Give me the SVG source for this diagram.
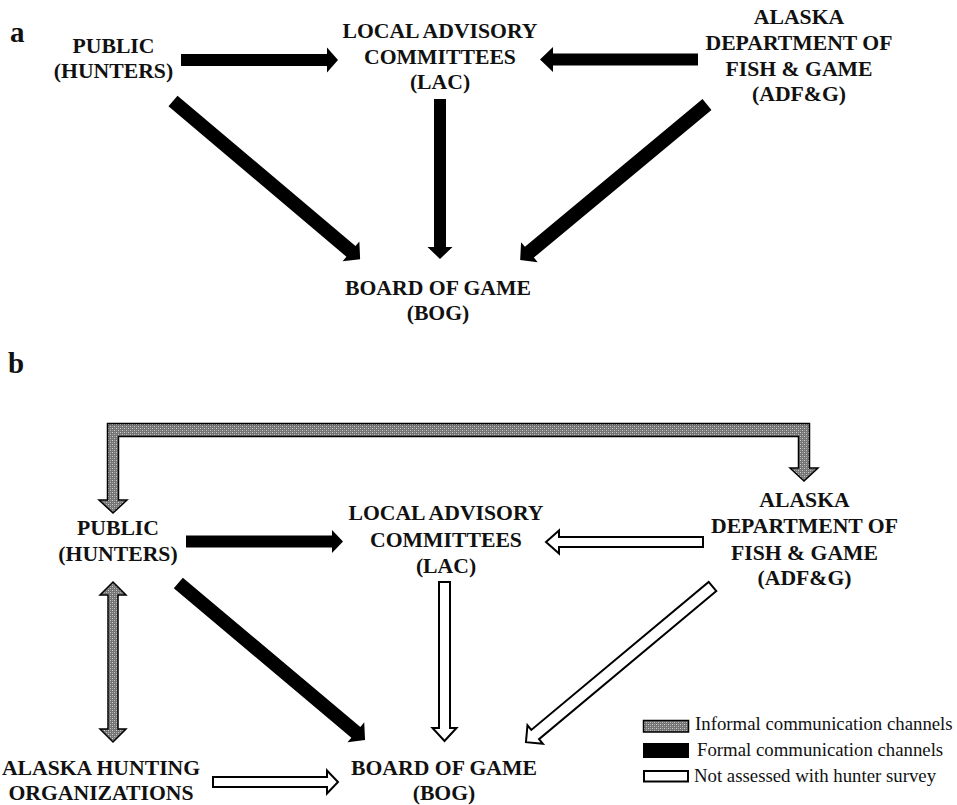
<svg xmlns="http://www.w3.org/2000/svg" width="957" height="805" viewBox="0 0 957 805">
<defs>
<pattern id="speckle" patternUnits="userSpaceOnUse" width="4" height="4">
<rect width="4" height="4" fill="#747474"/>
<rect x="0" y="0" width="1" height="1" fill="#d2d2d2"/>
<rect x="2" y="2" width="1" height="1" fill="#c4c4c4"/>
<rect x="2" y="0" width="1" height="1" fill="#a4a4a4"/>
<rect x="0" y="2" width="1" height="1" fill="#9a9a9a"/>
</pattern>
</defs>
<style>
.n{font-family:"Liberation Serif","Times New Roman",serif;font-weight:bold;font-size:21.7px;text-anchor:middle;fill:#111}
.lab{font-family:"Liberation Serif","Times New Roman",serif;font-weight:bold;font-size:29px;fill:#111}
.leg{font-family:"Liberation Serif","Times New Roman",serif;font-size:18.8px;fill:#111}
.formal{fill:#000;stroke:none}
.notass{fill:#fff;stroke:#000;stroke-width:2;stroke-linejoin:miter}
.informal{fill:url(#speckle);stroke:#000;stroke-width:1.5;stroke-linejoin:miter}
</style>
<rect width="957" height="805" fill="#fff"/>

<text class="lab" x="10" y="42">a</text>
<text class="lab" x="8" y="373">b</text>

<!-- Panel a nodes -->
<g id="a-public"><text class="n" x="113.5" y="53">PUBLIC</text><text class="n" x="113.5" y="78">(HUNTERS)</text></g>
<g id="a-lac"><text class="n" x="440" y="38">LOCAL ADVISORY</text><text class="n" x="440" y="64">COMMITTEES</text><text class="n" x="440" y="89">(LAC)</text></g>
<g id="a-adfg"><text class="n" x="799" y="24">ALASKA</text><text class="n" x="799" y="50">DEPARTMENT OF</text><text class="n" x="799" y="76">FISH &amp; GAME</text><text class="n" x="799" y="101">(ADF&amp;G)</text></g>
<g id="a-bog"><text class="n" x="438" y="295">BOARD OF GAME</text><text class="n" x="438" y="320">(BOG)</text></g>

<!-- Panel b nodes -->
<g id="b-public"><text class="n" x="118" y="535">PUBLIC</text><text class="n" x="118" y="561">(HUNTERS)</text></g>
<g id="b-lac"><text class="n" x="446" y="520">LOCAL ADVISORY</text><text class="n" x="446" y="547">COMMITTEES</text><text class="n" x="446" y="573">(LAC)</text></g>
<g id="b-adfg"><text class="n" x="804.5" y="507">ALASKA</text><text class="n" x="804.5" y="533">DEPARTMENT OF</text><text class="n" x="804.5" y="560">FISH &amp; GAME</text><text class="n" x="804.5" y="585">(ADF&amp;G)</text></g>
<g id="b-bog"><text class="n" x="444" y="775">BOARD OF GAME</text><text class="n" x="444" y="800">(BOG)</text></g>
<g id="b-aho"><text class="n" x="101" y="775">ALASKA HUNTING</text><text class="n" x="101" y="800">ORGANIZATIONS</text></g>

<g id="connectors">
<!-- panel a -->
<polygon class="formal" transform="translate(181,60)" points="0,-6 146,-6 146,-12.5 157,0 146,12.5 146,6 0,6"/>
<polygon class="formal" transform="translate(698,59.5) rotate(180)" points="0,-6 145,-6 145,-12.5 158,0 145,12.5 145,6 0,6"/>
<polygon class="formal" transform="translate(440,99) rotate(90)" points="0,-6 148,-6 148,-12.5 160,0 148,12.5 148,6 0,6"/>
<polygon class="formal" transform="translate(173,101) rotate(40.2)" points="0,-7 233,-7 233,-13 245,0 233,13 233,7 0,7"/>
<polygon class="formal" transform="translate(707,104.5) rotate(140.25)" points="0,-7 231,-7 231,-13 243,0 231,13 231,7 0,7"/>
<!-- panel b -->
<path class="informal" d="M107.5,500 L107.5,423.5 L809.5,423.5 L809.5,468 L818,468 L804,481 L790,468 L798.5,468 L798.5,436.5 L118.5,436.5 L118.5,500 L127,500 L113,513 L99,500 Z"/>
<polygon class="informal" transform="translate(113,582) rotate(90)" points="0,0 13,-13 13,-5 147,-5 147,-13 160,0 147,13 147,5 13,5 13,13"/>
<polygon class="formal" transform="translate(186,541.5)" points="0,-6 146,-6 146,-11.5 157,0 146,11.5 146,6 0,6"/>
<polygon class="formal" transform="translate(178.3,583) rotate(40.06)" points="0,-7 232,-7 232,-13 244,0 232,13 232,7 0,7"/>
<polygon class="notass" transform="translate(703,542) rotate(180)" points="0,-5 144,-5 144,-11.5 157,0 144,11.5 144,5 0,5"/>
<polygon class="notass" transform="translate(444.5,582) rotate(90)" points="0,-5.5 146,-5.5 146,-12 159,0 146,12 146,5.5 0,5.5"/>
<polygon class="notass" transform="translate(712.5,586.5) rotate(140.15)" points="0,-6 231,-6 231,-12 243,0 231,12 231,6 0,6"/>
<polygon class="notass" transform="translate(213,782)" points="0,-5 114,-5 114,-11.5 125,0 114,11.5 114,5 0,5"/>
</g>

<g id="legend">
<rect class="informal" x="643.5" y="720.5" width="45" height="11.5"/>
<rect class="formal" x="643" y="743" width="46" height="15"/>
<rect class="notass" x="644" y="771" width="44" height="10.5"/>
<text class="leg" x="695" y="729.5">Informal communication channels</text>
<text class="leg" x="697" y="756">Formal communication channels</text>
<text class="leg" x="694" y="782">Not assessed with hunter survey</text>
</g>
</svg>
